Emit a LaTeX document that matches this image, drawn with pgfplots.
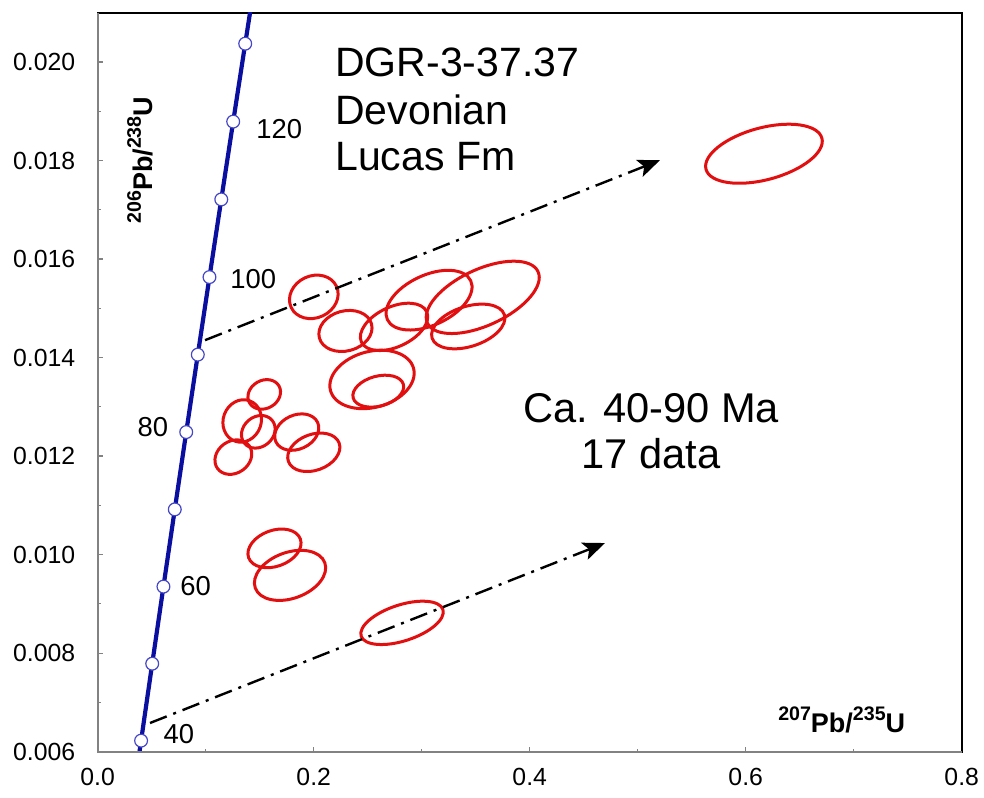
\documentclass[border=0pt]{standalone}
\usepackage{fontspec}
\setmainfont{Liberation Sans}
\usepackage{pgfplots}
\pgfplotsset{compat=1.18}
\usepackage{pgfplotstable}
\usetikzlibrary{arrows.meta}
\definecolor{concblue}{RGB}{10,15,160}
\definecolor{markblue}{RGB}{70,70,200}
\definecolor{ellred}{RGB}{225,15,15}
\definecolor{spine}{RGB}{130,130,130}

\newcommand{\isosup}[1]{\raisebox{6.1pt}{\fontsize{9.8}{10}\selectfont #1}}

\pgfdeclareplotmark{errell}{%
  \pgftransformrotate{\ellAng}%
  \pgfpathellipse{\pgfpointorigin}{\pgfpoint{\ellA pt}{0pt}}{\pgfpoint{0pt}{\ellB pt}}%
  \pgfusepathqstroke}

% error ellipses: centre (x,y), semi-axes a,b in pt, rotation in degrees
\pgfplotstableread{
x y a b ang
0.6169 0.018137 30 13 15
0.2001 0.015232 12.5 10.5 25
0.3068 0.015165 23 12.5 25
0.3565 0.015222 30.5 14 25
0.3431 0.014631 19 10 18
0.2744 0.014623 18 10 25
0.2294 0.014540 13.5 10 15
0.2540 0.013556 21.5 14 15
0.2598 0.013318 13 7.5 15
0.1542 0.013252 8.5 7 30
0.1338 0.012714 10.75 9.5 70
0.1487 0.012493 9 7.5 40
0.1256 0.011979 9.75 8 35
0.1843 0.012487 11.5 8.5 25
0.2001 0.012077 13.5 9 20
0.1637 0.010127 13.75 9 20
0.1781 0.009579 18.5 11.5 20
0.2818 0.008615 21.5 9 18
}\ellipses

% concordia curve (t in Ma)
\pgfplotstableread{
t x y
35 0.035071 0.0054441
40 0.040180 0.0062243
50 0.050475 0.0077863
60 0.060872 0.0093509
70 0.071371 0.0109180
80 0.081975 0.0124873
90 0.092683 0.0140592
100 0.103498 0.0156334
110 0.114419 0.0172101
120 0.125449 0.0187894
130 0.136588 0.0203710
140 0.147837 0.0219550
}\concordia

\pgfplotstableread{
t x y
40 0.040180 0.0062243
50 0.050475 0.0077863
60 0.060872 0.0093509
70 0.071371 0.0109180
80 0.081975 0.0124873
90 0.092683 0.0140592
100 0.103498 0.0156334
110 0.114419 0.0172101
120 0.125449 0.0187894
130 0.136588 0.0203710
}\concmarks

\begin{document}
\begin{tikzpicture}
\useasboundingbox (-48.85pt,-22.65pt) rectangle (443.15pt,375.85pt);
\begin{axis}[
  scale only axis,
  width=432pt, height=369.5pt,
  xmin=0, xmax=0.8, ymin=0.006, ymax=0.021,
  clip mode=individual,
  axis line style={black, line width=1pt},
  tick pos=left,
  tick align=inside,
  tick style={spine, line width=0.6pt},
  major tick length=2.5pt, minor tick length=1.5pt,
  xtick={0,0.2,0.4,0.6,0.8},
  minor xtick={0.1,0.3,0.5,0.7},
  ytick={0.006,0.008,0.010,0.012,0.014,0.016,0.018,0.020},
  minor ytick={0.007,0.009,0.011,0.013,0.015,0.017,0.019,0.021},
  scaled x ticks=false, scaled y ticks=false,
  /pgf/number format/assume math mode=true,
  xticklabel style={/pgf/number format/.cd, fixed, fixed zerofill, precision=1, /tikz/.cd, font=\fontsize{12.4}{14}\selectfont, yshift=-4.5pt},
  yticklabel style={/pgf/number format/.cd, fixed, fixed zerofill, precision=3, /tikz/.cd, font=\fontsize{12.4}{14}\selectfont, xshift=-7.7pt},
]
% error ellipses
\addplot[scatter, only marks, mark=errell, line width=1.5pt,
  scatter/use mapped color={draw=ellred, fill=none},
  visualization depends on={\thisrow{a} \as \ellA},
  visualization depends on={\thisrow{b} \as \ellB},
  visualization depends on={\thisrow{ang} \as \ellAng},
] table[x=x, y=y] {\ellipses};

% arrows
\addplot[black, line width=1.2pt, dash pattern=on 9pt off 3.5pt on 1.5pt off 3.5pt,
  -{Stealth[length=11pt, width=9pt, inset=2.5pt]}] coordinates {(0.0994,0.014353) (0.5206,0.018005)};
\addplot[black, line width=1.2pt, dash pattern=on 9pt off 3.5pt on 1.5pt off 3.5pt,
  -{Stealth[length=11pt, width=9pt, inset=2.5pt]}] coordinates {(0.0484,0.006582) (0.4697,0.010235)};

% concordia
\addplot[concblue, line width=2.1pt, mark=none] table[x=x, y=y] {\concordia};
\addplot[only marks, mark=*, mark size=3.2pt, mark options={fill=white, draw=markblue, line width=0.6pt}] table[x=x, y=y] {\concmarks};

% spines
\draw[spine, line width=1pt] (rel axis cs:0,1) -- (rel axis cs:0,0) -- (rel axis cs:1,0);

% age labels
\begin{scope}[every node/.style={anchor=base west, inner sep=0pt, font=\fontsize{13.7}{16}\selectfont}]
\node at (axis cs:0.1466,0.018452) {120};
\node at (axis cs:0.1225,0.015402) {100};
\node at (axis cs:0.0367,0.012405) {80};
\node at (axis cs:0.0762,0.009179) {60};
\node at (axis cs:0.0607,0.006170) {40};
\end{scope}

% sample text
\begin{scope}[every node/.style={anchor=base west, inner sep=0pt, font=\fontsize{20.5}{24}\selectfont}]
\node at (axis cs:0.2197,0.019696) {DGR-3-37.37};
\node at (axis cs:0.2197,0.018730) {Devonian};
\node at (axis cs:0.2197,0.017802) {Lucas Fm};
\end{scope}
\begin{scope}[every node/.style={anchor=base, inner sep=0pt, font=\fontsize{20.8}{24}\selectfont}]
\node at (axis cs:0.5123,0.012689) {Ca. 40-90 Ma};
\node at (axis cs:0.5123,0.011742) {17 data};
\end{scope}

% axis labels
\node[anchor=base, inner sep=0pt, font=\bfseries\fontsize{13.5}{15}\selectfont] at (axis cs:0.6889,0.006394) {\isosup{207}Pb/\isosup{235}U};
\node[rotate=90, anchor=base, inner sep=0pt, font=\bfseries\fontsize{13.5}{15}\selectfont] at (axis cs:0.0512,0.018005) {\isosup{206}Pb/\isosup{238}U};
\end{axis}
\end{tikzpicture}
\end{document}
